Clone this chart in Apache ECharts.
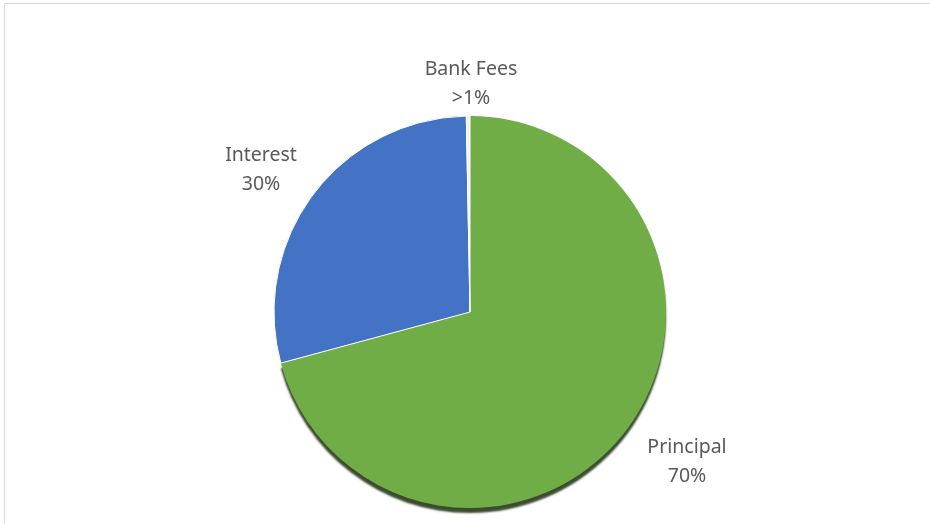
<!DOCTYPE html>
<html>
<head>
<meta charset="utf-8">
<script src="https://cdn.jsdelivr.net/npm/echarts@6/dist/echarts.min.js"></script>
<style>
html,body{margin:0;padding:0;background:#fff;}
#c{width:930px;height:524px;}
</style>
</head>
<body>
<div id="c"></div>
<script>
// Data
var categories = ['Principal', 'Interest', 'Bank Fees'];
var values = [70.8, 28.9, 0.3];
var labelTexts = ['70%', '30%', '>1%'];

var colors = ['#70AD47', '#4472C4', '#F2F2F2'];
var labelPos = [[687, 462], [261, 170], [471, 84]];

var chart = echarts.init(document.getElementById('c'));
var data = categories.map(function (name, i) {
  var item = { name: name, value: values[i], itemStyle: { color: colors[i] } };
  if (i === 0) {
    item.itemStyle.borderWidth = 0;
    item.itemStyle.shadowColor = 'rgba(25,45,10,0.85)';
    item.itemStyle.shadowBlur = 2;
    item.itemStyle.shadowOffsetY = 5;
  }
  return item;
});

chart.setOption({
  backgroundColor: '#fff',
  animation: false,
  graphic: [{
    type: 'rect',
    shape: { x: 4.5, y: 3.5, width: 940, height: 540 },
    style: { fill: 'none', stroke: '#d9d9d9', lineWidth: 1 },
    silent: true
  }],
  series: [{
    type: 'pie',
    center: [470, 312],
    radius: 196,
    startAngle: 90,
    clockwise: true,
    data: data,
    itemStyle: {
      borderColor: '#fff',
      borderWidth: 1
    },
    label: {
      show: true,
      position: 'outside',
      formatter: function (p) { return p.name + '\n' + labelTexts[p.dataIndex]; },
      fontFamily: 'Noto Sans',
      fontSize: 19.5,
      color: '#595959',
      lineHeight: 29,
      align: 'center',
      verticalAlign: 'middle'
    },
    labelLine: { show: false },
    labelLayout: function (params) {
      var p = labelPos[params.dataIndex];
      return { x: p[0], y: p[1], align: 'center', verticalAlign: 'middle', hideOverlap: false };
    },
    emphasis: { disabled: true }
  }]
});
</script>
</body>
</html>
